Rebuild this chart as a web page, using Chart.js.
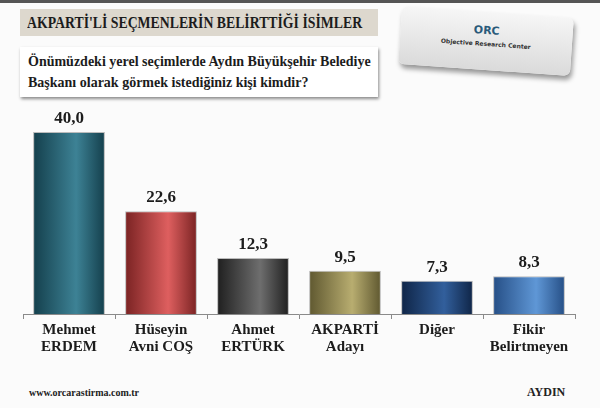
<!DOCTYPE html>
<html>
<head>
<meta charset="utf-8">
<script src="https://cdn.jsdelivr.net/npm/chart.js@4.4.0/dist/chart.umd.min.js"></script>
<style>
  html, body { margin: 0; padding: 0; }
  body { width: 600px; height: 408px; position: relative; overflow: hidden; background: #fbfbfb; font-family: "Liberation Serif", serif; }
  .topbar { position: absolute; left: 0; top: 0; width: 600px; height: 3px; background: #555; }
  .title { position: absolute; left: 20px; top: 9px; width: 358px; height: 27px; background: #ddd8ce; color: #1c1c1c; font-weight: bold; font-size: 17px; line-height: 27px; padding-left: 7px; box-sizing: border-box; white-space: nowrap; overflow: hidden; }
  .title span { display: inline-block; transform: scaleX(0.81); transform-origin: left center; }
  .question { position: absolute; left: 20px; top: 47px; width: 358px; height: 50px; background: #fff; box-shadow: 1px 2px 3px rgba(0,0,0,0.45); color: #1c1c1c; font-weight: bold; font-size: 14px; line-height: 21px; padding: 4px 0 0 8px; box-sizing: border-box; white-space: nowrap; }
  .logo { position: absolute; left: 400px; top: 12px; width: 172px; height: 58px; background: linear-gradient(#f6f6f6, #dadada); border-radius: 6px; box-shadow: 2px 4px 5px rgba(0,0,0,0.4); transform: rotate(4deg); text-align: center; }
  .logo .mark { font-family: "DejaVu Sans", sans-serif; font-size: 11px; font-weight: bold; color: #2a5a7a; margin-top: 12px; }
  .logo .name { font-family: "DejaVu Sans", sans-serif; font-size: 6px; font-weight: bold; color: #333; margin-top: 3px; }
  .site { position: absolute; left: 29px; top: 387px; font-size: 10px; font-weight: bold; color: #222; }
  .city { position: absolute; left: 527px; top: 385px; font-size: 12px; font-weight: bold; color: #222; }
  #wrap { position: absolute; left: 0; top: 100px; width: 600px; height: 270px; }
</style>
</head>
<body>
<div class="topbar"></div>
<div class="title"><span>AKPARTİ'Lİ SEÇMENLERİN BELİRTTİĞİ İSİMLER</span></div>
<div class="question">Önümüzdeki yerel seçimlerde Aydın Büyükşehir Belediye<br>Başkanı olarak görmek istediğiniz kişi kimdir?</div>
<div class="logo"><div class="mark">ORC</div><div class="name">Objective Research Center</div></div>
<div id="wrap"><canvas id="c"></canvas></div>
<div class="site">www.orcarastirma.com.tr</div>
<div class="city">AYDIN</div>
<script>
const categories = [
  ['Mehmet', 'ERDEM'],
  ['Hüseyin', 'Avni COŞ'],
  ['Ahmet', 'ERTÜRK'],
  ['AKPARTİ', 'Adayı'],
  ['Diğer'],
  ['Fikir', 'Belirtmeyen']
];
const values = [40.0, 22.6, 12.3, 9.5, 7.3, 8.3];
const darkColors = ['#143f4c', '#7a2323', '#1f1f1f', '#5f5830', '#0f2547', '#264f86'];
const lightColors = ['#3d8295', '#de5f5f', '#6e6e6e', '#b8ad70', '#325f9c', '#5f97d6'];

const barPct = 0.78;

function barGradient(ctx) {
  const chart = ctx.chart;
  const i = ctx.dataIndex;
  const x = chart.scales.x;
  if (i === undefined) return darkColors[0];
  if (!x || !isFinite(x.width) || x.width <= 0) return lightColors[i];
  const center = x.getPixelForValue(i);
  const half = (x.width / categories.length) * barPct / 2;
  if (!isFinite(center)) return lightColors[i];
  const g = chart.ctx.createLinearGradient(center - half, 0, center + half, 0);
  g.addColorStop(0, darkColors[i]);
  g.addColorStop(0.6, lightColors[i]);
  g.addColorStop(1, darkColors[i]);
  return g;
}

const valueLabels = {
  id: 'valueLabels',
  afterDatasetsDraw(chart) {
    const ctx = chart.ctx;
    const meta = chart.getDatasetMeta(0);
    ctx.save();
    ctx.font = 'bold 17px "Liberation Serif", serif';
    ctx.fillStyle = '#1c1c1c';
    ctx.textAlign = 'center';
    ctx.textBaseline = 'bottom';
    meta.data.forEach((bar, i) => {
      ctx.fillText(values[i].toFixed(1).replace('.', ','), bar.x, bar.y - 5);
    });
    ctx.restore();
  }
};

new Chart(document.getElementById('c'), {
  type: 'bar',
  data: {
    labels: categories,
    datasets: [{
      data: values,
      backgroundColor: barGradient,
      borderColor: 'rgba(0,0,0,0.25)',
      borderWidth: 1,
      categoryPercentage: barPct,
      barPercentage: 1
    }]
  },
  options: {
    responsive: true,
    maintainAspectRatio: false,
    animation: false,
    layout: { padding: { left: 23, right: 25, top: 32, bottom: 12 } },
    plugins: { legend: { display: false }, tooltip: { enabled: false } },
    scales: {
      y: { display: false, min: 0, max: 40 },
      x: {
        grid: { drawOnChartArea: false, drawTicks: true, tickLength: 5, color: '#8a8a8a' },
        border: { display: true, color: '#8a8a8a' },
        ticks: {
          color: '#1c1c1c',
          padding: 3,
          maxRotation: 0,
          font: { family: '"Liberation Serif", serif', size: 15, weight: 'bold', lineHeight: 1.1 }
        }
      }
    }
  },
  plugins: [valueLabels]
});
</script>
</body>
</html>
